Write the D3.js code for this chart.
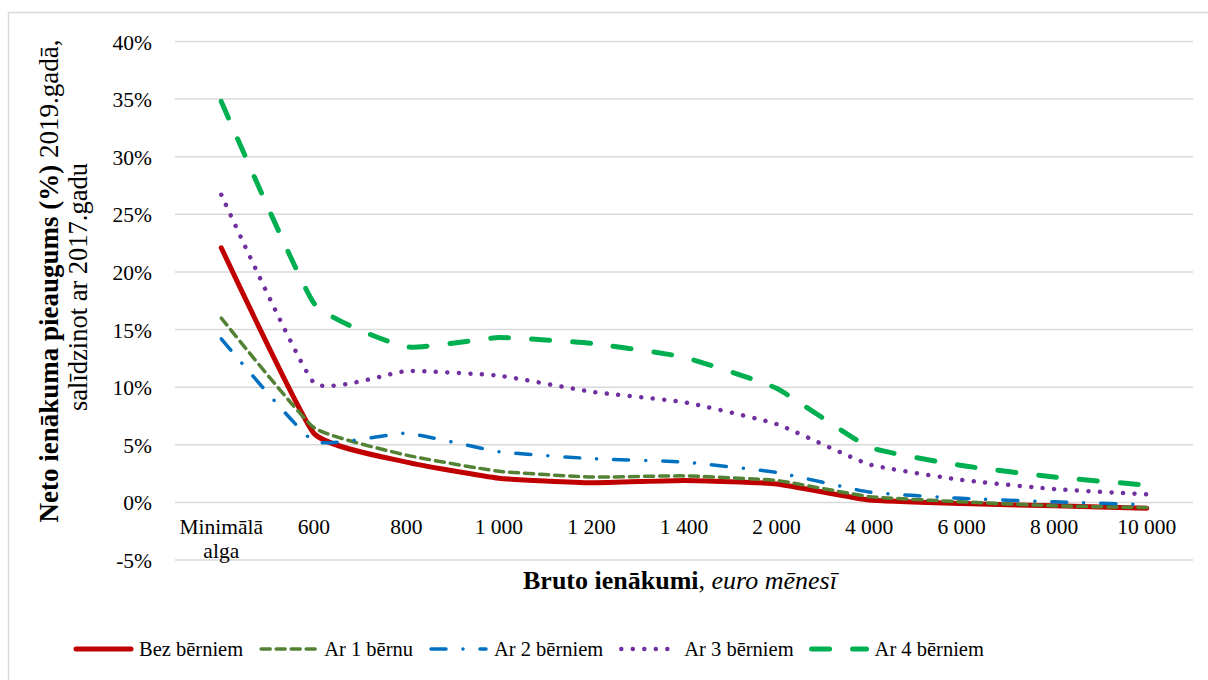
<!DOCTYPE html>
<html>
<head>
<meta charset="utf-8">
<script src="https://cdn.jsdelivr.net/npm/d3@7"></script>
<style>
  body { margin: 0; background: #fff; }
  svg { display: block; }
</style>
</head>
<body>
<div id="chart"></div>
<script>
const width = 1208;
const height = 680;
const FONT = '"Liberation Serif", "Times New Roman"';

// categories on the x axis
const categories = ["Minimālā alga", "600", "800", "1 000", "1 200", "1 400", "2 000", "4 000", "6 000", "8 000", "10 000"];

// net income growth (%), 2019 vs 2017
const bezBerniem = [22.1, 6.0, 3.5, 2.1, 1.7, 1.9, 1.6, 0.2, -0.1, -0.3, -0.5];
const ar1Bernu   = [16.0, 6.5, 4.1, 2.7, 2.2, 2.3, 1.9, 0.5, 0.05, -0.3, -0.45];
const ar2Berniem = [14.2, 5.3, 6.0, 4.4, 3.8, 3.5, 2.6, 0.9, 0.35, 0.05, -0.2];
const ar3Berniem = [26.7, 10.4, 11.4, 11.0, 9.6, 8.7, 6.8, 3.3, 1.95, 1.15, 0.7];
const ar4Berniem = [34.8, 17.3, 13.5, 14.3, 13.8, 12.6, 9.9, 4.8, 3.2, 2.2, 1.5];

const yTicks = [-5, 0, 5, 10, 15, 20, 25, 30, 35, 40];

const series = [
    {name: "Bez bērniem", values: bezBerniem, color: "#c00000", w: 5, dash: null},
    {name: "Ar 1 bērnu", values: ar1Bernu, color: "#548235", w: 3.5, dash: "9 6"},
    {name: "Ar 2 bērniem", values: ar2Berniem, color: "#0070c0", w: 3.5, dash: "15 17 0.01 17"},
    {name: "Ar 3 bērniem", values: ar3Berniem, color: "#7030a0", w: 4.5, dash: "0.01 11.5"},
    {name: "Ar 4 bērniem", values: ar4Berniem, color: "#00b050", w: 5, dash: "18 23"}
];

const svg = d3.select("#chart").append("svg")
    .attr("width", width)
    .attr("height", height);

// outer chart frame
svg.append("rect")
    .attr("x", 8.5).attr("y", 12.5)
    .attr("width", 1220).attr("height", 700)
    .attr("fill", "#fff")
    .attr("stroke", "#d9d9d9")
    .attr("stroke-width", 1.5);

const x = d3.scalePoint()
    .domain(categories)
    .range([175, 1193])
    .padding(0.5);

const y = d3.scaleLinear()
    .domain([-5, 40])
    .range([560, 41.5]);

// gridlines
svg.append("g")
    .selectAll("line")
    .data(yTicks)
    .join("line")
    .attr("x1", 175).attr("x2", 1193)
    .attr("y1", d => y(d)).attr("y2", d => y(d))
    .attr("stroke", "#d9d9d9")
    .attr("stroke-width", 1.5);

// y axis
const yAxis = svg.append("g")
    .attr("transform", "translate(152,0)")
    .call(d3.axisLeft(y).tickValues(yTicks).tickFormat(d => d + "%").tickSize(0).tickPadding(0));
yAxis.attr("font-family", null).attr("font-size", null);
yAxis.select(".domain").remove();
yAxis.selectAll("text")
    .style("font-family", FONT)
    .style("font-size", "21.5px")
    .attr("fill", "#000")
    .attr("dy", "0.35em");

// x axis labels
const xLabels = svg.append("g")
    .selectAll("text")
    .data(categories)
    .join("text")
    .attr("x", d => x(d))
    .attr("y", 534)
    .attr("text-anchor", "middle")
    .style("font-family", FONT)
    .style("font-size", "21.5px")
    .attr("fill", "#000");
xLabels.each(function (d) {
    const words = d === "Minimālā alga" ? ["Minimālā", "alga"] : [d];
    d3.select(this).selectAll("tspan")
        .data(words)
        .join("tspan")
        .attr("x", x(d))
        .attr("dy", (w, i) => i === 0 ? 0 : 24)
        .text(w => w);
});

// lines
const line = d3.line()
    .x((d, i) => x(categories[i]))
    .y(d => y(d))
    .curve(d3.curveCardinal.tension(0.6));

svg.append("g")
    .selectAll("path")
    .data(series)
    .join("path")
    .attr("d", d => line(d.values))
    .attr("fill", "none")
    .attr("stroke", d => d.color)
    .attr("stroke-width", d => d.w)
    .attr("stroke-dasharray", d => d.dash)
    .attr("stroke-linecap", "round")
    .attr("stroke-linejoin", "round");

// y axis title
const yTitle = svg.append("text")
    .attr("transform", "translate(58,281) rotate(-90)")
    .attr("text-anchor", "middle")
    .style("font-family", FONT)
    .style("font-size", "27px")
    .attr("fill", "#000");
yTitle.append("tspan").attr("font-weight", "bold").text("Neto ienākuma pieaugums (%)");
yTitle.append("tspan").text(" 2019.gadā,");

svg.append("text")
    .attr("transform", "translate(87,287) rotate(-90)")
    .attr("text-anchor", "middle")
    .style("font-family", FONT)
    .style("font-size", "26.5px")
    .attr("fill", "#000")
    .text("salīdzinot ar 2017.gadu");

// x axis title
const xTitle = svg.append("text")
    .attr("x", 680)
    .attr("y", 589)
    .attr("text-anchor", "middle")
    .style("font-family", FONT)
    .style("font-size", "26px")
    .attr("fill", "#000");
xTitle.append("tspan").attr("font-weight", "bold").text("Bruto ienākumi");
xTitle.append("tspan").text(", ");
xTitle.append("tspan").attr("font-style", "italic").text("euro mēnesī");

// legend
const legend = svg.append("g").attr("transform", "translate(74,649)");
let lx = 0;
series.forEach(s => {
    const g = legend.append("g").attr("transform", `translate(${lx},0)`);
    g.append("line")
        .attr("x1", 2).attr("x2", 57)
        .attr("y1", 0).attr("y2", 0)
        .attr("stroke", s.color)
        .attr("stroke-width", s.w)
        .attr("stroke-dasharray", s.dash)
        .attr("stroke-linecap", "round");
    const t = g.append("text")
        .attr("x", 65)
        .attr("y", 7)
        .style("font-family", FONT)
        .style("font-size", "20.5px")
        .attr("fill", "#000")
        .text(s.name);
    lx += 65 + t.node().getComputedTextLength() + 16;
});
</script>
</body>
</html>
